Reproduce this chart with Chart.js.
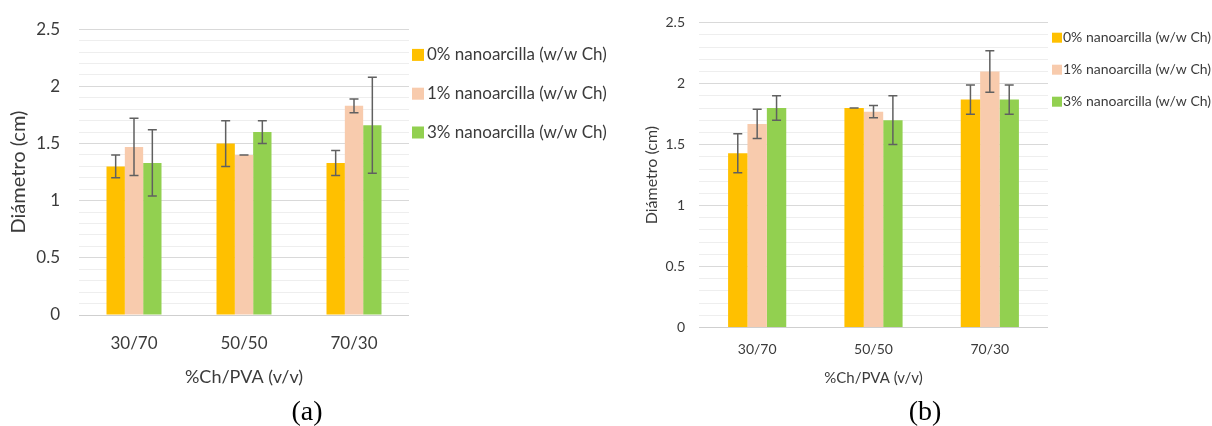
<!DOCTYPE html>
<html>
<head>
<meta charset="utf-8">
<script src="https://cdn.jsdelivr.net/npm/chart.js@4"></script>
<style>
  body { margin: 0; background: #fff; width: 1212px; height: 426px; position: relative; overflow: hidden; }
  .box { position: absolute; top: 0; }
  .cap { position: absolute; top: 395px; font-family: "Liberation Serif", "DejaVu Serif", serif; font-size: 28px; color: #000; transform: translateX(-50%); }
</style>
</head>
<body>
<div class="box" style="left:0"><canvas id="chartA" width="612" height="400"></canvas></div>
<div class="box" style="left:612px"><canvas id="chartB" width="600" height="400"></canvas></div>
<div class="cap" style="left:307px">(a)</div>
<div class="cap" style="left:925px">(b)</div>
<script>
const categories = ["30/70", "50/50", "70/30"];
const seriesLabels = ["0% nanoarcilla (w/w Ch)", "1% nanoarcilla (w/w Ch)", "3% nanoarcilla (w/w Ch)"];
const seriesColors = ["#FFC000", "#F8CBAD", "#92D050"];
const yTickLabels = ["0", "0.5", "1", "1.5", "2", "2.5"];
const xTitle = "%Ch/PVA (v/v)";
const yTitle = "Diámetro (cm)";

// chart (a)
const a0 = [1.30, 1.50, 1.33];
const a0Err = [0.10, 0.20, 0.11];
const a1 = [1.47, 1.40, 1.83];
const a1Err = [0.25, 0.00, 0.06];
const a3 = [1.33, 1.60, 1.66];
const a3Err = [0.29, 0.10, 0.42];

// chart (b)
const b0 = [1.43, 1.80, 1.87];
const b0Err = [0.16, 0.00, 0.12];
const b1 = [1.67, 1.77, 2.10];
const b1Err = [0.12, 0.05, 0.17];
const b3 = [1.80, 1.70, 1.87];
const b3Err = [0.10, 0.20, 0.12];

const FONT = "Lato, 'Open Sans', sans-serif";
const TEXT = "#3b3b3b";

const errorBars = {
  id: "errorBars",
  afterDatasetsDraw(chart) {
    const ctx = chart.ctx;
    const y = chart.scales.y;
    ctx.save();
    ctx.strokeStyle = "#606060";
    ctx.lineWidth = 1.5;
    chart.data.datasets.forEach((ds, i) => {
      chart.getDatasetMeta(i).data.forEach((bar, j) => {
        const v = ds.data[j], e = ds.errors[j];
        const hi = y.getPixelForValue(v + e);
        const lo = y.getPixelForValue(v - e);
        ctx.beginPath();
        ctx.moveTo(bar.x, hi); ctx.lineTo(bar.x, lo);
        ctx.moveTo(bar.x - 4.5, hi); ctx.lineTo(bar.x + 4.5, hi);
        ctx.moveTo(bar.x - 4.5, lo); ctx.lineTo(bar.x + 4.5, lo);
        ctx.stroke();
      });
    });
    ctx.restore();
  }
};

const sideLegend = {
  id: "sideLegend",
  afterDraw(chart, args, opts) {
    const ctx = chart.ctx;
    const area = chart.chartArea;
    ctx.save();
    ctx.font = opts.size + "px " + FONT;
    ctx.textBaseline = "middle";
    ctx.fillStyle = TEXT;
    chart.data.datasets.forEach((ds, i) => {
      const cy = area.top + opts.y0 + i * opts.step;
      ctx.fillStyle = ds.backgroundColor;
      ctx.fillRect(area.right + opts.boxX, cy - opts.box / 2, opts.box, opts.box);
      ctx.fillStyle = TEXT;
      ctx.fillText(ds.label, area.right + opts.textX, cy);
    });
    ctx.restore();
  }
};

function gridColor(c) {
  const k = Math.round(c.tick.value * 10);
  if (k === 0) return "#cfcfcf";
  return k % 5 === 0 ? "#d9d9d9" : "#eeeeee";
}

function buildChart(id, vals, errs, g) {
  return new Chart(document.getElementById(id), {
    type: "bar",
    data: {
      labels: categories,
      datasets: seriesLabels.map((label, i) => ({
        label: label,
        data: vals[i],
        errors: errs[i],
        backgroundColor: seriesColors[i],
        barPercentage: 1,
        categoryPercentage: 0.5
      }))
    },
    options: {
      responsive: false,
      animation: false,
      layout: { padding: { left: 0, top: g.top, right: g.right, bottom: 0 } },
      plugins: {
        legend: { display: false },
        tooltip: { enabled: false },
        sideLegend: g.legend
      },
      scales: {
        x: {
          grid: { display: false, drawTicks: false },
          border: { display: false },
          ticks: { color: TEXT, font: { family: FONT, size: g.xTick }, padding: g.xTickPad },
          title: { display: true, text: xTitle, color: TEXT, font: { family: FONT, size: g.xTitle }, padding: { top: 0, bottom: g.xTitlePad } },
          afterFit: s => { s.height = g.xAxisH; }
        },
        y: {
          min: 0,
          max: 2.5,
          grid: { color: gridColor, drawTicks: false, lineWidth: 1 },
          border: { display: false },
          ticks: {
            stepSize: 0.1,
            autoSkip: false,
            color: TEXT,
            font: { family: FONT, size: g.yTick },
            padding: g.yTickPad,
            callback: v => {
              const k = Math.round(v * 10);
              return k % 5 === 0 ? yTickLabels[k / 5] : "";
            }
          },
          title: { display: true, text: yTitle, color: TEXT, font: { family: FONT, size: g.yTitle }, padding: { top: g.yTitlePad, bottom: 0 } },
          afterFit: s => { s.width = g.yAxisW; }
        }
      }
    },
    plugins: [errorBars, sideLegend]
  });
}

buildChart("chartA", [a0, a1, a3], [a0Err, a1Err, a3Err], {
  top: 25, right: 203, yAxisW: 79, xAxisH: 85,
  xTick: 17, xTickPad: 18, xTitle: 18, xTitlePad: 12,
  yTick: 17, yTickPad: 19, yTitle: 20, yTitlePad: 7,
  legend: { size: 17, box: 12, boxX: 3, textX: 18, y0: 25.7, step: 38.8 }
});

buildChart("chartB", [b0, b1, b3], [b0Err, b1Err, b3Err], {
  top: 22.7, right: 164, yAxisW: 87, xAxisH: 72.5,
  xTick: 14, xTickPad: 14, xTitle: 15, xTitlePad: 13,
  yTick: 14, yTickPad: 14, yTitle: 16, yTitlePad: 30.4,
  legend: { size: 14, box: 10, boxX: 4, textX: 15, y0: 15, step: 32 }
});
</script>
</body>
</html>
